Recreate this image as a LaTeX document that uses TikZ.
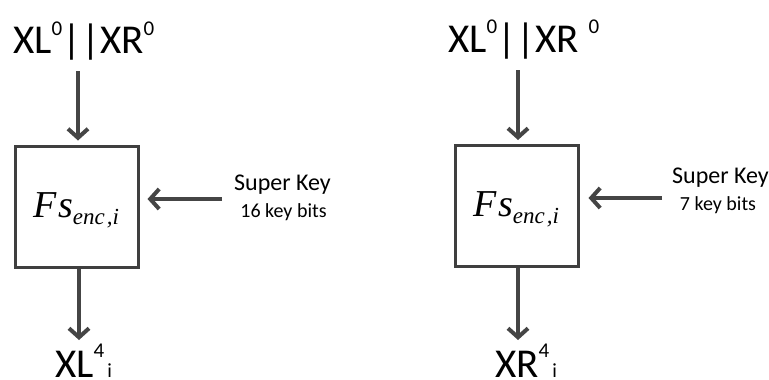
\documentclass[tikz,border=0pt]{standalone}
\usepackage{fontspec}
\setmainfont{Carlito}
\newfontfamily\eqfont{Liberation Serif}
\usetikzlibrary{arrows.meta}
\definecolor{boxgray}{HTML}{3F3F3F}
\definecolor{arrowgray}{HTML}{454545}
\newcommand{\upidx}[2]{\raisebox{#1}{\fontsize{21}{21}\selectfont #2}}
\newcommand{\lowidx}[1]{{\fontsize{20}{20}\selectfont\kern3pt #1}}
\newcommand{\fsname}{{\eqfont\itshape F\kern1pt s}\raisebox{-7pt}{\fontsize{23}{23}\selectfont\eqfont\itshape enc\kern2pt,i}}
\begin{document}
\begin{tikzpicture}[x=1pt,y=-1pt,
  block/.style={draw=boxgray,line width=3pt,minimum width=123pt,minimum height=121pt,
    inner sep=0pt,text height=27pt,text depth=6pt,font=\fontsize{38}{38}\selectfont},
  flow/.style={arrowgray,line width=4pt,-{Straight Barb[length=9pt,width=20pt]}},
  bigtxt/.style={font=\fontsize{41}{41}\selectfont,inner sep=0pt},
  keytxt/.style={font=\fontsize{24}{24}\selectfont,inner sep=0pt},
  bitstxt/.style={font=\fontsize{20}{20}\selectfont,inner sep=0pt}]
\useasboundingbox (0,0) rectangle (769,380);

%%%%%%%%%%%%%%%%% Left %%%%%%%%%%%%%%
%Input
\node[bigtxt,anchor=base west] (inL) at (13,53){XL\upidx{18pt}{0}||XR\upidx{18pt}{0}};
\coordinate (aL) at (78,71);

%Block
\node[block] (blkL) at (76.5,206.5){\fsname};

%Output
\coordinate (bL) at (79,340);
\node[bigtxt,anchor=base west] (outL) at (55,377){XL\upidx{20pt}{4}\lowidx{i}};

%Key
\node[keytxt,anchor=base] (supL) at (282.5,190){Super Key};
\node[bitstxt,anchor=base] (bitsL) at (283.5,217){16 key bits};
\coordinate (kL) at (222,199);

\draw[flow,shorten >=4pt] (aL) -- (aL |- blkL.north);
\draw[flow] (blkL.south -| bL) -- (bL);
\draw[flow,shorten >=8pt] (kL) -- (kL -| blkL.east);

%%%%%%%%%%%%%%%%% Right %%%%%%%%%%%%%%
%Input
\node[bigtxt,anchor=base west] (inR) at (448,52){XL\upidx{18pt}{0}||XR\kern10pt\upidx{18pt}{0}};
\coordinate (aR) at (518,70);

%Block
\node[block] (blkR) at (516.5,206){\fsname};

%Output
\coordinate (bR) at (518,340);
\node[bigtxt,anchor=base west] (outR) at (495,377){XR\upidx{20pt}{4}\lowidx{i}};

%Key
\node[keytxt,anchor=base] (supR) at (720.5,183){Super Key};
\node[bitstxt,anchor=base] (bitsR) at (718,210){7 key bits};
\coordinate (kR) at (662,198);

\draw[flow,shorten >=4pt] (aR) -- (aR |- blkR.north);
\draw[flow] (blkR.south -| bR) -- (bR);
\draw[flow,shorten >=9pt] (kR) -- (kR -| blkR.east);

\end{tikzpicture}
\end{document}
